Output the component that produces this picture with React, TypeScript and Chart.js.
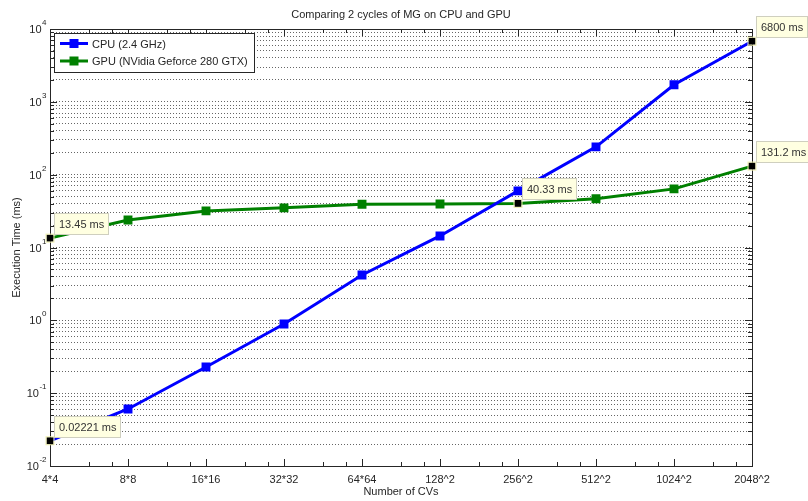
import React, { useEffect, useRef } from 'react';
import { Chart, registerables } from 'chart.js';

Chart.register(...registerables);

const categories = ['4*4', '8*8', '16*16', '32*32', '64*64', '128^2', '256^2', '512^2', '1024^2', '2048^2'];
const cpuTimes = [0.02221, 0.0607, 0.229, 0.89, 4.2, 14.4, 59.9, 241, 1713, 6800];
const gpuTimes = [13.45, 23.9, 31.8, 35.0, 39.2, 39.6, 40.33, 46.6, 63.8, 131.2];
const seriesLabels = ['CPU (2.4 GHz)', 'GPU (NVidia Geforce 280 GTX)'];
const seriesColors = ['#0000ff', '#008000'];
const yExponents = [-2, -1, 0, 1, 2, 3, 4];
const xMinorFractions = [0.5, 0.8];
const datatips = [
  { series: 0, index: 0, label: '0.02221 ms' },
  { series: 1, index: 0, label: '13.45 ms' },
  { series: 1, index: 6, label: '40.33 ms' },
  { series: 0, index: 9, label: '6800 ms' },
  { series: 1, index: 9, label: '131.2 ms' },
];
const titleText = 'Comparing 2 cycles of MG on CPU and GPU';
const xTitle = 'Number of CVs';
const yTitle = 'Execution Time (ms)';

const FONT = '"Liberation Sans", Arial, sans-serif';
const TEXT = '#262626';

function isTip(series: number, index: number) {
  return datatips.some((d) => d.series === series && d.index === index);
}

function buildYTicks() {
  const t: { value: number; major: boolean }[] = [];
  for (let e = -2; e < 4; e++) {
    for (let s = 1; s <= 9; s++) t.push({ value: s * Math.pow(10, e), major: s === 1 });
  }
  t.push({ value: 1e4, major: true });
  return t;
}

const decorPlugin = {
  id: 'decor',
  afterDatasetsDraw(chart: any) {
    const ctx = chart.ctx as CanvasRenderingContext2D;
    const { left, right, top, bottom } = chart.chartArea;
    const xs = chart.scales.x;
    const ys = chart.scales.y;
    ctx.save();
    // axes box
    ctx.strokeStyle = '#262626';
    ctx.lineWidth = 1;
    ctx.setLineDash([]);
    ctx.strokeRect(Math.round(left) + 0.5, Math.round(top) + 0.5, Math.round(right - left), Math.round(bottom - top));
    const line = (x1: number, y1: number, x2: number, y2: number) => {
      ctx.beginPath();
      ctx.moveTo(x1, y1);
      ctx.lineTo(x2, y2);
      ctx.stroke();
    };
    // x ticks
    for (let i = 0; i < categories.length; i++) {
      const px = Math.round(xs.getPixelForValue(i)) + 0.5;
      line(px, bottom, px, bottom - 7);
      line(px, top, px, top + 7);
      if (i < categories.length - 1) {
        xMinorFractions.forEach((f) => {
          const mx = Math.round(xs.getPixelForValue(i + f)) + 0.5;
          line(mx, bottom, mx, bottom - 4);
          line(mx, top, mx, top + 4);
        });
      }
    }
    // y ticks
    buildYTicks().forEach((t) => {
      const py = Math.round(ys.getPixelForValue(t.value)) + 0.5;
      const len = t.major ? 7 : 4;
      line(left, py, left + len, py);
      line(right, py, right - len, py);
    });
    // x tick labels
    ctx.fillStyle = TEXT;
    ctx.font = `11px ${FONT}`;
    ctx.textAlign = 'center';
    ctx.textBaseline = 'alphabetic';
    categories.forEach((c, i) => {
      ctx.fillText(c, xs.getPixelForValue(i), bottom + 17);
    });
    // y tick labels
    yExponents.forEach((e) => {
      const py = ys.getPixelForValue(Math.pow(10, e));
      const sup = String(e);
      ctx.font = `8px ${FONT}`;
      const sw = ctx.measureText(sup).width;
      const baseRight = 46 - sw;
      ctx.textAlign = 'left';
      ctx.fillText(sup, baseRight + 0.5, py - 4);
      ctx.font = `11px ${FONT}`;
      ctx.textAlign = 'right';
      ctx.fillText('10', baseRight, py + 4);
    });
    // titles
    ctx.font = `11px ${FONT}`;
    ctx.textAlign = 'center';
    ctx.fillText(titleText, (left + right) / 2, 18);
    ctx.fillText(xTitle, (left + right) / 2, 495);
    ctx.save();
    ctx.translate(20, (top + bottom) / 2);
    ctx.rotate(-Math.PI / 2);
    ctx.textBaseline = 'alphabetic';
    ctx.fillText(yTitle, 0, 0);
    ctx.restore();
    // legend
    const lx = 54, ly = 33, lw = 200, lh = 39;
    ctx.fillStyle = '#ffffff';
    ctx.fillRect(lx, ly, lw, lh);
    ctx.strokeStyle = '#262626';
    ctx.strokeRect(lx + 0.5, ly + 0.5, lw, lh);
    seriesLabels.forEach((lab, i) => {
      const yy = 43.5 + i * 17.5;
      ctx.strokeStyle = seriesColors[i];
      ctx.lineWidth = 3;
      line(60, yy, 88, yy);
      ctx.fillStyle = seriesColors[i];
      ctx.fillRect(74 - 4.5, yy - 4.5, 9, 9);
      ctx.fillStyle = TEXT;
      ctx.font = `11px ${FONT}`;
      ctx.textAlign = 'left';
      ctx.textBaseline = 'middle';
      ctx.fillText(lab, 92, yy + 1);
    });
    ctx.lineWidth = 1;
    // datatips
    datatips.forEach((d) => {
      const vals = d.series === 0 ? cpuTimes : gpuTimes;
      const px = xs.getPixelForValue(d.index);
      const py = ys.getPixelForValue(vals[d.index]);
      ctx.fillStyle = '#000000';
      ctx.fillRect(px - 3.5, py - 3.5, 7, 7);
      ctx.strokeStyle = '#f0f0b0';
      ctx.strokeRect(px - 4, py - 4, 8, 8);
      ctx.font = `11px ${FONT}`;
      const tw = ctx.measureText(d.label).width;
      const bx = Math.round(px + 4) + 0.5;
      const bh = 21;
      const by = Math.round(py - 4 - bh) + 0.5;
      const bw = Math.round(tw + 9);
      ctx.fillStyle = '#ffffe1';
      ctx.fillRect(bx, by, bw, bh);
      ctx.strokeStyle = '#cfcfbf';
      ctx.strokeRect(bx, by, bw, bh);
      ctx.fillStyle = '#333333';
      ctx.textAlign = 'left';
      ctx.textBaseline = 'middle';
      ctx.fillText(d.label, bx + 4.5, by + bh / 2 + 1);
    });
    ctx.restore();
  },
};

export default function App() {
  const ref = useRef<HTMLCanvasElement | null>(null);
  useEffect(() => {
    if (!ref.current) return;
    const yTicks = buildYTicks();
    const chart = new Chart(ref.current, {
      type: 'line',
      data: {
        labels: categories,
        datasets: [
          {
            label: seriesLabels[0],
            data: cpuTimes,
            borderColor: seriesColors[0],
            backgroundColor: seriesColors[0],
            borderWidth: 3,
            pointStyle: 'rect',
            pointRadius: cpuTimes.map((_, i) => (isTip(0, i) ? 0 : 6.3)),
            pointBorderWidth: 0,
            tension: 0,
          },
          {
            label: seriesLabels[1],
            data: gpuTimes,
            borderColor: seriesColors[1],
            backgroundColor: seriesColors[1],
            borderWidth: 3,
            pointStyle: 'rect',
            pointRadius: gpuTimes.map((_, i) => (isTip(1, i) ? 0 : 6.3)),
            pointBorderWidth: 0,
            tension: 0,
          },
        ],
      },
      options: {
        responsive: false,
        animation: false,
        devicePixelRatio: 1,
        layout: { padding: { left: 50, top: 29, right: 56, bottom: 35 } },
        plugins: { legend: { display: false }, title: { display: false }, tooltip: { enabled: false } },
        events: [],
        scales: {
          x: {
            type: 'category',
            offset: false,
            ticks: { display: false },
            grid: { display: false, drawTicks: false },
            border: { display: false },
          },
          y: {
            type: 'logarithmic',
            min: 0.01,
            max: 10000,
            afterBuildTicks: (scale: any) => {
              scale.ticks = yTicks.map((t) => ({ value: t.value }));
            },
            ticks: { display: false },
            grid: { color: 'rgba(0,0,0,0.6)', lineWidth: 1, drawTicks: false },
            border: { display: false, dash: [1, 2] },
          },
        },
      },
      plugins: [decorPlugin],
    });
    return () => chart.destroy();
  }, []);
  return (
    <div style={{ position: 'fixed', left: 0, top: 0, width: 808, height: 501, background: '#ffffff' }}>
      <canvas ref={ref} width={808} height={501} style={{ display: 'block' }} />
    </div>
  );
}
